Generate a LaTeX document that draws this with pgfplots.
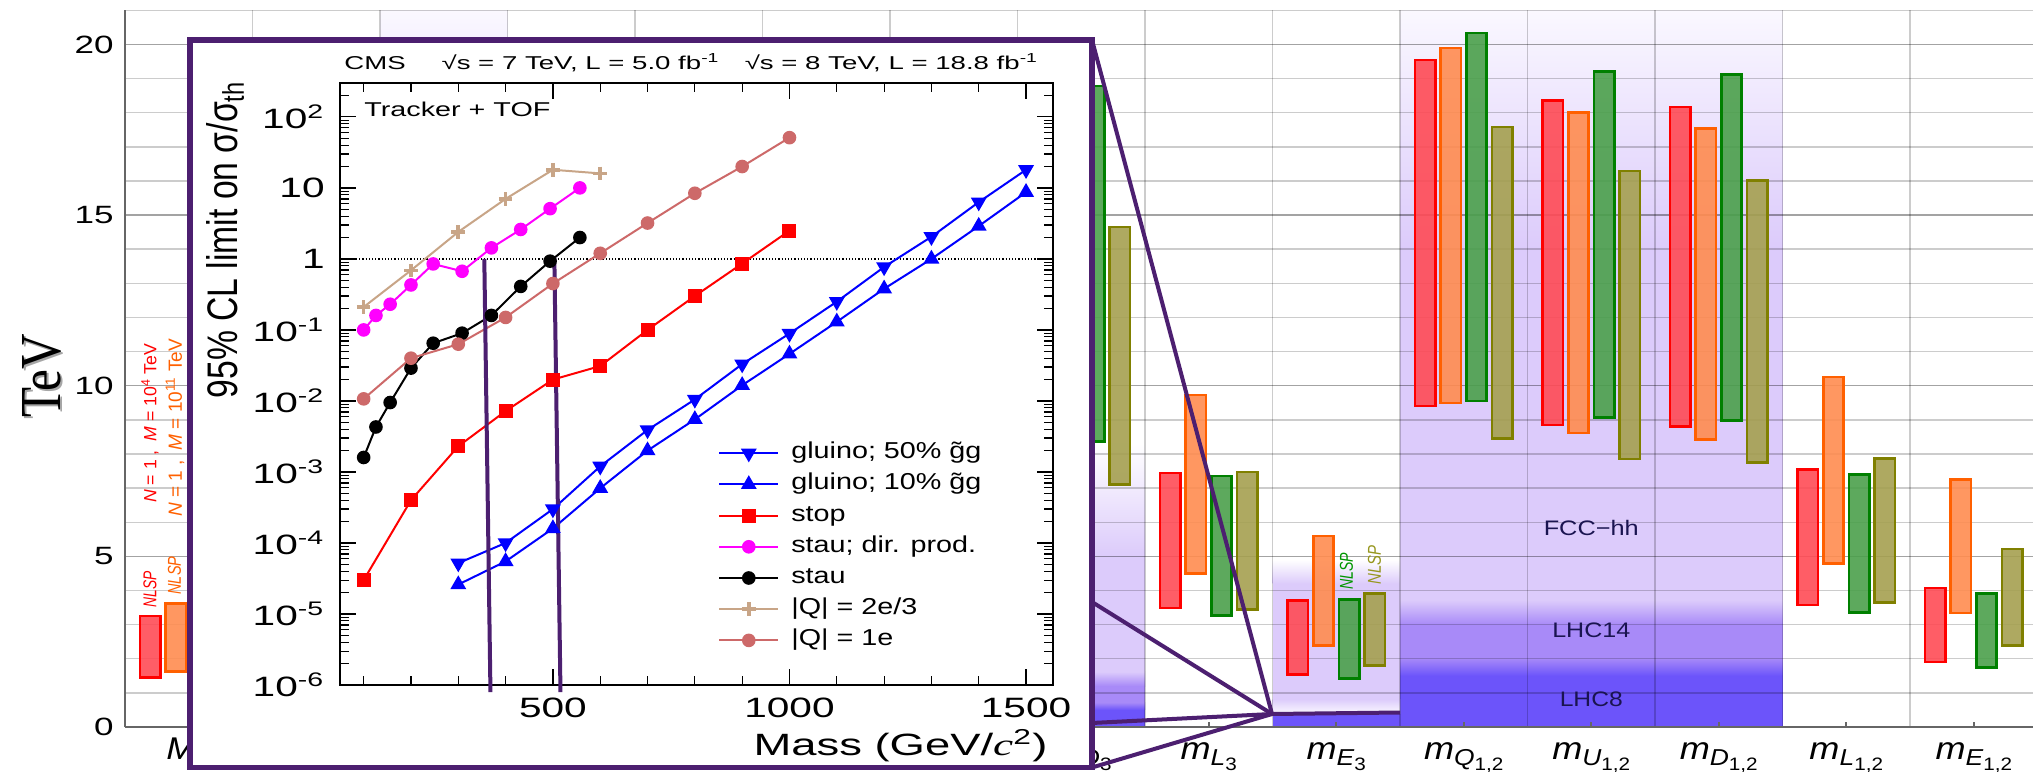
\documentclass[border=0pt]{standalone}
\usepackage{fontspec}
\setmainfont{Liberation Sans}
\newfontfamily\serif{Liberation Serif}
\usepackage{graphicx}
\usepackage{pgfplots}
\usepackage{pgfplotstable}
\pgfplotsset{compat=1.18}

\definecolor{C8}{HTML}{6C54FA}
\definecolor{C14}{HTML}{A88AF8}
\definecolor{CF}{HTML}{DCCBFB}
\definecolor{CW}{HTML}{FAF8FF}
\definecolor{insetpurple}{HTML}{4C1F70}
\definecolor{barR}{RGB}{255,75,85}
\definecolor{edgeR}{RGB}{255,0,0}
\definecolor{barO}{RGB}{255,140,80}
\definecolor{edgeO}{RGB}{255,96,0}
\definecolor{barG}{RGB}{75,160,75}
\definecolor{edgeG}{RGB}{0,128,0}
\definecolor{barL}{RGB}{165,160,80}
\definecolor{edgeL}{RGB}{128,128,0}
\definecolor{qtan}{RGB}{200,165,135}
\definecolor{qrose}{RGB}{205,105,105}
\definecolor{pmag}{RGB}{255,0,255}
\definecolor{pblue}{RGB}{0,0,255}
\definecolor{pred}{RGB}{255,0,0}
\definecolor{bandtext}{HTML}{1A1450}
\definecolor{txtG}{RGB}{0,150,0}
\definecolor{txtL}{RGB}{150,150,30}

\newcommand{\hs}[2]{\scalebox{#1}[1]{#2}}
\newcommand{\mlab}[2]{\hs{1.15}{{\fontsize{15.7}{16}\selectfont\itshape m}\raisebox{-3pt}{\fontsize{11.5}{12}\selectfont\itshape #1\raisebox{-2.5pt}{\fontsize{9}{9}\selectfont\upshape #2}}}}
\newcommand{\Mlab}[1]{\hs{1.15}{{\fontsize{15.7}{16}\selectfont\itshape M}\raisebox{-3pt}{\fontsize{11.5}{12}\selectfont #1}}}

\pgfplotstableread{
x lo hi
0 1.45 3.25
8 3.49 7.44
9 1.54 3.70
10 9.40 19.54
11 8.85 18.35
12 8.80 18.17
13 3.58 7.54
14 1.91 4.07
}\redT
\pgfplotstableread{
x lo hi
0 1.62 3.62
8 4.49 9.73
9 2.39 5.60
10 9.49 19.89
11 8.62 18.01
12 8.42 17.53
13 4.79 10.25
14 3.34 7.25
}\orangeT
\pgfplotstableread{
x lo hi
2 12.0 20.17
7 8.36 18.78
8 3.27 7.36
9 1.42 3.74
10 9.55 20.34
11 9.07 19.21
12 8.98 19.11
13 3.35 7.40
14 1.74 3.91
}\greenT
\pgfplotstableread{
x lo hi
7 7.10 14.65
8 3.44 7.47
9 1.81 3.91
10 8.45 17.58
11 7.85 16.29
12 7.75 16.01
13 3.64 7.86
14 2.39 5.22
}\oliveT

\pgfplotsset{
  mainpos/.style={at={(62.5pt,22pt)}, anchor=south west, scale only axis,
    width=956.25pt, height=358.35pt, xmin=-0.5, xmax=14.5, ymin=0, ymax=21},
  bargroup/.style={mainpos, hide axis, ybar stacked, bar width=10.2pt},
}
\newcommand{\bargroup}[4]{%
\begin{axis}[bargroup]
\addplot[draw=none, fill=none, bar shift=#2] table[x=x,y=lo] {#1};
\addplot[draw=#3, fill=#4, fill opacity=0.9, line width=1.3pt, bar shift=#2] table[x=x, y expr=\thisrow{hi}-\thisrow{lo}] {#1};
\end{axis}}

\begin{document}
\begin{tikzpicture}
\useasboundingbox (0,0) rectangle (1016.5pt,385.5pt);
\clip (0,0) rectangle (1016.5pt,385.5pt);

% ---------- background bands ----------
\begin{axis}[mainpos, hide axis]
\fill[C8] (axis cs:9.5,0) rectangle (axis cs:12.5,1.52);
\shade[bottom color=C8, top color=C14] (axis cs:9.5,1.5) rectangle (axis cs:12.5,2.02);
\fill[C14] (axis cs:9.5,2.0) rectangle (axis cs:12.5,3.02);
\shade[bottom color=C14, top color=CF] (axis cs:9.5,3.0) rectangle (axis cs:12.5,3.72);
\fill[CF] (axis cs:9.5,3.7) rectangle (axis cs:12.5,14.02);
\shade[bottom color=CF, top color=CW] (axis cs:9.5,14) rectangle (axis cs:12.5,21);
% m_D3
\fill[C8] (axis cs:6.5,0) rectangle (axis cs:7.5,0.52);
\shade[bottom color=C8, top color=C14] (axis cs:6.5,0.5) rectangle (axis cs:7.5,0.72);
\fill[C14] (axis cs:6.5,0.7) rectangle (axis cs:7.5,1.22);
\shade[bottom color=C14, top color=CF] (axis cs:6.5,1.2) rectangle (axis cs:7.5,1.62);
\fill[CF] (axis cs:6.5,1.6) rectangle (axis cs:7.5,5.02);
\shade[bottom color=CF, top color=white] (axis cs:6.5,5.0) rectangle (axis cs:7.5,8.3);
% m_E3
\fill[C8] (axis cs:8.5,0) rectangle (axis cs:9.5,0.42);
\shade[bottom color=CW, top color=CF] (axis cs:8.5,0.4) rectangle (axis cs:9.5,0.82);
\fill[CF] (axis cs:8.5,0.8) rectangle (axis cs:9.5,4.22);
\shade[bottom color=CF, top color=white] (axis cs:8.5,4.2) rectangle (axis cs:9.5,4.9);
% M_3 (top)
\shade[bottom color=CF, top color=CW] (axis cs:1.5,14) rectangle (axis cs:2.5,21);
\end{axis}

% ---------- main axis: grid, spines, labels ----------
\begin{axis}[mainpos,
  axis x line*=bottom, axis y line*=left,
  axis line style={draw=black!60, line width=0.9pt},
  xtick={0,...,14},
  xticklabels={{\Mlab{1}},{},{},{},{},{},{},{\mlab{D}{3}},{\mlab{L}{3}},{\mlab{E}{3}},
    {\mlab{Q}{1,2}},{\mlab{U}{1,2}},{\mlab{D}{1,2}},{\mlab{L}{1,2}},{\mlab{E}{1,2}}},
  minor xtick={-0.5,0.5,...,14.5},
  ytick={0,5,10,15,20},
  yticklabels={{\hs{1.4}{0}},{\hs{1.4}{5}},{\hs{1.4}{10}},{\hs{1.4}{15}},{\hs{1.4}{20}}},
  minor ytick={0,1,...,21},
  xmajorgrids=false, xminorgrids=true, ymajorgrids=true, yminorgrids=true,
  grid style={black, opacity=0.2, line width=0.7pt},
  minor grid style={black, opacity=0.2, line width=0.7pt},
  tick align=inside, major tick length=2.5pt, minor tick length=0pt,
  ytick style={draw=none},
  xtick style={draw=black!60, line width=0.8pt},
  yticklabel style={font=\fontsize{12.5}{13}\selectfont, inner sep=0pt, xshift=-5.5pt},
  xticklabel style={anchor=base, inner sep=0pt, yshift=-16pt},
]
\end{axis}

% ---------- floating bars ----------
\bargroup{\redT}{-19.2pt}{edgeR}{barR}
\bargroup{\orangeT}{-6.4pt}{edgeO}{barO}
\bargroup{\greenT}{6.4pt}{edgeG}{barG}
\bargroup{\oliveT}{19.2pt}{edgeL}{barL}

% ---------- annotations in main axis ----------
\begin{axis}[mainpos, hide axis, clip=false]
\node[rotate=90, anchor=west, inner sep=0pt, text=edgeR] at (axis cs:-0.304,3.49) {\resizebox{18pt}{6.5pt}{\itshape NLSP}};
\node[rotate=90, anchor=west, inner sep=0pt, text=edgeO] at (axis cs:-0.112,3.87) {\resizebox{19pt}{6.5pt}{\itshape NLSP}};
\node[rotate=90, anchor=west, inner sep=0pt, text=txtG] at (axis cs:9.08,4.01) {\resizebox{18.5pt}{6.5pt}{\itshape NLSP}};
\node[rotate=90, anchor=west, inner sep=0pt, text=txtL] at (axis cs:9.30,4.16) {\resizebox{19.5pt}{6.5pt}{\itshape NLSP}};
\node[rotate=90, anchor=west, inner sep=0pt, text=edgeR] at (axis cs:-0.304,6.56) {\resizebox{79.5pt}{!}{\textit{N} = 1 ,\enspace \textit{M} = 10\textsuperscript{4} TeV}};
\node[rotate=90, anchor=west, inner sep=0pt, text=edgeO] at (axis cs:-0.108,6.15) {\resizebox{89pt}{!}{\textit{N} = 1 ,\enspace \textit{M} = 10\textsuperscript{11} TeV}};
\node[text=bandtext] at (axis cs:11,5.82) {\resizebox{47.5pt}{\height}{\fontsize{10.5}{11}\selectfont FCC−hh}};
\node[text=bandtext] at (axis cs:11,2.82) {\resizebox{39pt}{\height}{\fontsize{10.5}{11}\selectfont LHC14}};
\node[text=bandtext] at (axis cs:11,0.80) {\resizebox{31.5pt}{\height}{\fontsize{10.5}{11}\selectfont LHC8}};
\end{axis}

% TeV label with shadow
\node[rotate=90, anchor=base, text=black!35, inner sep=0pt] at (31.2pt,196.5pt) {\resizebox{42pt}{19pt}{\serif TeV}};
\node[rotate=90, anchor=base, inner sep=0pt] at (30pt,197.5pt) {\resizebox{42pt}{19pt}{\serif TeV}};

% ---------- inset ----------
\draw[insetpurple, line width=2.75pt, fill=white] (95pt,1.75pt) rectangle (546pt,365.5pt);

\begin{axis}[at={(170pt,43pt)}, anchor=south west, scale only axis,
  width=356.5pt, height=301pt,
  xmin=50, xmax=1557, ymode=log, ymin=1e-6, ymax=300,
  clip=false,
  axis line style={line width=0.8pt},
  xtick={500,1000,1500}, minor xtick={100,200,...,1500},
  xticklabels={{\hs{1.45}{500}},{\hs{1.45}{1000}},{\hs{1.45}{1500}}},
  ytick={1e-6,1e-5,1e-4,1e-3,1e-2,1e-1,1,10,100},
  yticklabels={{\hs{1.45}{10\textsuperscript{-6}}},{\hs{1.45}{10\textsuperscript{-5}}},{\hs{1.45}{10\textsuperscript{-4}}},{\hs{1.45}{10\textsuperscript{-3}}},{\hs{1.45}{10\textsuperscript{-2}}},{\hs{1.45}{10\textsuperscript{-1}}},{\hs{1.45}{1}},{\hs{1.45}{10}},{\hs{1.45}{10\textsuperscript{2}}}},
  minor ytick={2e-6,3e-6,4e-6,5e-6,6e-6,7e-6,8e-6,9e-6,2e-5,3e-5,4e-5,5e-5,6e-5,7e-5,8e-5,9e-5,2e-4,3e-4,4e-4,5e-4,6e-4,7e-4,8e-4,9e-4,0.002,0.003,0.004,0.005,0.006,0.007,0.008,0.009,0.02,0.03,0.04,0.05,0.06,0.07,0.08,0.09,0.2,0.3,0.4,0.5,0.6,0.7,0.8,0.9,2,3,4,5,6,7,8,9,20,30,40,50,60,70,80,90,200,300},
  tick align=inside, major tick length=8pt, minor tick length=4.5pt,
  every tick/.style={black, line width=0.6pt},
  ticklabel style={font=\fontsize{14}{14}\selectfont},
  yticklabel style={inner sep=0pt, xshift=-7.5pt},
  xticklabel style={inner sep=0pt, yshift=-6.5pt},
  legend style={at={(0.53,0.405)}, anchor=north west, draw=none, fill=none,
    font=\fontsize{11.5}{12}\selectfont, inner sep=0pt, row sep=4pt,
    nodes={inner sep=0pt, text height=8.6pt, text depth=3pt},
    /tikz/every odd column/.append style={column sep=6pt}},
  legend cell align=left,
  legend image code/.code={\draw[mark repeat=2,mark phase=2,#1] plot coordinates {(0pt,0pt) (14.75pt,0pt) (29.5pt,0pt)};},
]
\draw[black, densely dotted, line width=0.6pt] (axis cs:50,1) -- (axis cs:1557,1);
\addplot[pblue, line width=1pt, mark=triangle*, mark size=3.6pt, mark options={rotate=180}] table {
300 5.2e-5
400 1.0e-4
500 3.0e-4
600 1.2e-3
700 3.9e-3
800 0.0105
900 0.033
1000 0.089
1100 0.25
1200 0.77
1300 2.05
1400 6.3
1500 18
};
\addlegendentry{\hs{1.25}{gluino; 50\% \~{g}g}}
\addplot[pblue, line width=1pt, mark=triangle*, mark size=3.6pt] table {
300 2.6e-5
400 5.5e-5
500 1.6e-4
600 5.9e-4
700 2.0e-3
800 5.5e-3
900 0.0166
1000 0.046
1100 0.13
1200 0.38
1300 1.0
1400 2.9
1500 8.7
};
\addlegendentry{\hs{1.25}{gluino; 10\% \~{g}g}}
\addplot[pred, line width=1pt, mark=square*, mark size=3pt] table {
100 3.0e-5
200 4.0e-4
300 2.3e-3
400 7.2e-3
500 0.020
600 0.031
700 0.10
800 0.30
900 0.86
1000 2.5
};
\addlegendentry{\hs{1.25}{stop}}
\addplot[pmag, line width=1pt, mark=*, mark size=2.9pt] table {
100 0.10
126 0.16
156 0.23
200 0.43
247 0.85
308 0.67
370 1.43
432 2.6
494 5.1
557 10
};
\addlegendentry{\hs{1.25}{stau; dir. prod.}}
\addplot[black, line width=1pt, mark=*, mark size=2.9pt] table {
100 0.0016
126 0.0043
156 0.0095
200 0.029
247 0.065
308 0.09
370 0.16
432 0.41
494 0.93
557 2.0
};
\addlegendentry{\hs{1.25}{stau}}
\addplot[qtan, line width=1pt, mark=+, mark size=3.4pt, mark options={line width=1.8pt}] table {
100 0.21
200 0.69
300 2.4
400 7.0
500 18
600 16
};
\addlegendentry{\hs{1.25}{|Q| = 2e/3}}
\addplot[qrose, line width=1pt, mark=*, mark size=2.9pt] table {
100 0.0107
200 0.040
300 0.063
400 0.15
500 0.45
600 1.2
700 3.2
800 8.4
900 20
1000 51
};
\addlegendentry{\hs{1.25}{|Q| = 1e}}
\draw[insetpurple, line width=2pt] (axis cs:355,1) -- (axis cs:368,7.96e-7);
\draw[insetpurple, line width=2pt] (axis cs:503,1.05) -- (axis cs:516,7.96e-7);
\end{axis}

% inset texts
\node[anchor=base west, inner sep=0pt] at (172pt,350.5pt) {\resizebox{347pt}{\height}{\fontsize{9.3}{10}\selectfont CMS\hspace{1.3em}√s = 7 TeV, L = 5.0 fb\textsuperscript{-1}\hspace{0.9em}√s = 8 TeV, L = 18.8 fb\textsuperscript{-1}}};
\node[anchor=base west, inner sep=0pt] at (182pt,327pt) {\resizebox{93pt}{\height}{\fontsize{10}{10}\selectfont Tracker + TOF}};
\node[rotate=90, anchor=base east, inner sep=0pt] at (118.5pt,345pt) {\resizebox{158.5pt}{15.5pt}{\fontsize{16}{16}\selectfont 95\% CL limit on σ/σ\textsubscript{th}}};
\node[anchor=base east, inner sep=0pt] at (524pt,8pt) {\resizebox{147pt}{\height}{\fontsize{15.4}{16}\selectfont Mass (GeV/{\serif\itshape c}\textsuperscript{2})}};

% ---------- connecting lines ----------
\draw[insetpurple, line width=2pt] (546pt,365.5pt) -- (636pt,28.5pt);
\draw[insetpurple, line width=2pt] (546pt,84.5pt) -- (636pt,28.5pt);
\draw[insetpurple, line width=2pt] (546pt,24pt) -- (636pt,28.5pt);
\draw[insetpurple, line width=2pt] (546pt,1.75pt) -- (636pt,28.5pt);
\draw[insetpurple, line width=2pt] (636pt,28.5pt) -- (700pt,29.25pt);
\end{tikzpicture}
\end{document}
